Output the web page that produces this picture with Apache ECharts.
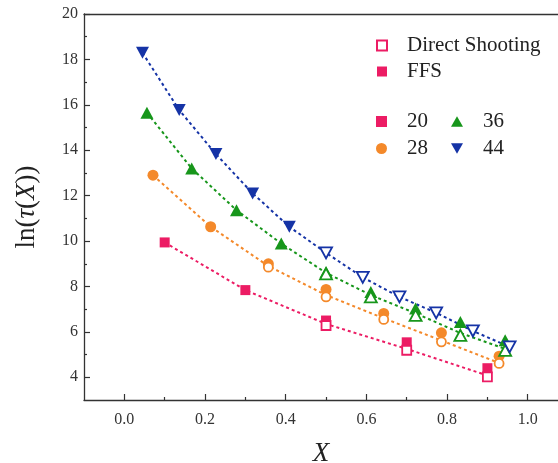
<!DOCTYPE html>
<html><head><meta charset="utf-8">
<script src="https://cdn.jsdelivr.net/npm/echarts@6/dist/echarts.min.js"></script>
<style>html,body{margin:0;padding:0;background:#fff}#c{width:558px;height:463px}</style>
</head><body><div id="c"></div>
<script>
// ---- data ----
const x20 = [0.1, 0.3, 0.5, 0.7, 0.9];
const ffs20 = [9.94, 7.84, 6.5, 5.54, 4.4];
const dsX20 = [0.5, 0.7, 0.9];
const ds20 = [6.28, 5.19, 4.02];
const fit20 = [9.94, 7.84, 6.35, 5.25, 4.08];

const x28 = [0.071, 0.214, 0.357, 0.5, 0.643, 0.786, 0.929];
const ffs28 = [12.9, 10.63, 9.0, 7.87, 6.81, 5.96, 4.93];
const dsX28 = [0.357, 0.5, 0.643, 0.786, 0.929];
const ds28 = [8.85, 7.54, 6.55, 5.56, 4.61];
const fit28 = [12.9, 10.63, 8.9, 7.62, 6.6, 5.62, 4.63];

const x36 = [0.056, 0.167, 0.278, 0.389, 0.5, 0.611, 0.722, 0.833, 0.944];
const ffs36 = [15.65, 13.2, 11.36, 9.89, 8.64, 7.76, 7.03, 6.44, 5.63];
const dsX36 = [0.5, 0.611, 0.722, 0.833, 0.944];
const ds36 = [8.55, 7.54, 6.73, 5.85, 5.19];
const fit36 = [15.65, 13.2, 11.36, 9.89, 8.6, 7.62, 6.82, 5.95, 5.25];

const x44 = [0.045, 0.136, 0.227, 0.318, 0.409, 0.5, 0.591, 0.682, 0.773, 0.864, 0.955];
const ffsX44 = [0.045, 0.136, 0.227, 0.318, 0.409];
const ffs44 = [18.29, 15.77, 13.83, 12.1, 10.63];
const dsX44 = [0.5, 0.591, 0.682, 0.773, 0.864, 0.955];
const ds44 = [9.48, 8.4, 7.54, 6.84, 6.04, 5.34];
const fit44 = [18.29, 15.77, 13.83, 12.1, 10.63, 9.48, 8.4, 7.54, 6.84, 6.04, 5.34];

const xMajor = [0, 0.2, 0.4, 0.6, 0.8, 1.0];
const xMinor = [0.1, 0.3, 0.5, 0.7, 0.9];
const yMajor = [4, 6, 8, 10, 12, 14, 16, 18, 20];
const yMinor = [5, 7, 9, 11, 13, 15, 17, 19];

// ---- styling ----
const PINK = '#ec1c64', ORANGE = '#f4892a', GREEN = '#17961b', BLUE = '#1533a6';
const FONT = 'Liberation Serif';
const DOWN = 'path://M0,0 L12,0 L6,10.4 Z';
const UP = 'path://M6,0 L12,10.4 L0,10.4 Z';
const AX = '#333';

const zip = (xs, ys) => xs.map((x, i) => [x, ys[i]]);

function fitLine(name, xs, ys, color) {
  return { name, type: 'line', data: zip(xs, ys), symbol: 'none', silent: true, z: 1,
    lineStyle: { color, width: 2, type: [3, 3] } };
}
function filled(name, xs, ys, color, symbol, size) {
  return { name, type: 'scatter', data: zip(xs, ys), symbol, symbolSize: size, z: 3,
    itemStyle: { color, opacity: 1 } };
}
function open(name, xs, ys, color, symbol, size) {
  return { name, type: 'scatter', data: zip(xs, ys), symbol, symbolSize: size, z: 4,
    itemStyle: { color: '#fff', borderColor: color, borderWidth: 1.8, opacity: 1 } };
}

const legendText = { fontFamily: FONT, fontSize: 21, color: '#222', padding: [0, 0, 0, 15] };

const option = {
  backgroundColor: '#fff',
  animation: false,
  grid: [
    { left: 84, top: 14, right: 0, bottom: 63, outerBoundsMode: 'none', containLabel: false },
    { left: 84, top: 14, right: 0, bottom: 63, outerBoundsMode: 'none', containLabel: false }
  ],
  xAxis: [
    { gridIndex: 0, type: 'value', min: -0.1, max: 1.075, position: 'bottom',
      name: 'X', nameLocation: 'middle', nameGap: 40,
      nameTextStyle: { fontFamily: FONT, fontSize: 27, fontStyle: 'italic', color: '#222' },
      axisLine: { show: true, onZero: false, lineStyle: { color: AX, width: 1.3 } },
      axisTick: { show: true, inside: true, length: 6, customValues: xMajor, lineStyle: { color: AX, width: 1.2 } },
      axisLabel: { customValues: xMajor, margin: 12, fontFamily: FONT, fontSize: 16, color: '#333',
        formatter: v => v.toFixed(1) },
      splitLine: { show: false } },
    { gridIndex: 0, type: 'value', min: -0.1, max: 1.075, position: 'top',
      axisLine: { show: true, onZero: false, lineStyle: { color: AX, width: 1.3 } },
      axisTick: { show: false }, axisLabel: { show: false }, splitLine: { show: false } },
    { gridIndex: 1, type: 'value', min: -0.1, max: 1.075, position: 'bottom',
      axisLine: { show: false, onZero: false },
      axisTick: { show: true, inside: true, length: 3, customValues: xMinor, lineStyle: { color: AX, width: 1.2 } },
      axisLabel: { show: false }, splitLine: { show: false } }
  ],
  yAxis: [
    { gridIndex: 0, type: 'value', min: 3, max: 20, position: 'left',
      name: 'ln({i|τ}({i|X}))', nameLocation: 'middle', nameGap: 44, nameRotate: 90,
      nameTextStyle: { fontFamily: FONT, fontSize: 27, color: '#222',
        rich: { i: { fontFamily: FONT, fontSize: 27, fontStyle: 'italic', color: '#222' } } },
      axisLine: { show: true, onZero: false, lineStyle: { color: AX, width: 1.3 } },
      axisTick: { show: true, inside: true, length: 6, customValues: yMajor, lineStyle: { color: AX, width: 1.2 } },
      axisLabel: { customValues: yMajor, margin: 6, fontFamily: FONT, fontSize: 16, color: '#333' },
      splitLine: { show: false } },
    { gridIndex: 1, type: 'value', min: 3, max: 20, position: 'left',
      axisLine: { show: false, onZero: false },
      axisTick: { show: true, inside: true, length: 3, customValues: yMinor, lineStyle: { color: AX, width: 1.2 } },
      axisLabel: { show: false }, splitLine: { show: false } }
  ],
  legend: [
    { data: ['Direct Shooting', 'FFS'], orient: 'vertical', left: 371, top: 30,
      itemWidth: 10, itemHeight: 10, itemGap: 5, selectedMode: false, textStyle: legendText },
    { data: ['20', '28'], orient: 'vertical', left: 371, top: 106,
      itemWidth: 11, itemHeight: 11, itemGap: 6, selectedMode: false, textStyle: legendText },
    { data: ['36', '44'], orient: 'vertical', left: 446, top: 106,
      itemWidth: 12, itemHeight: 11, itemGap: 6, selectedMode: false, textStyle: legendText }
  ],
  series: [
    fitLine('fit20', x20, fit20, PINK),
    fitLine('fit28', x28, fit28, ORANGE),
    fitLine('fit36', x36, fit36, GREEN),
    fitLine('fit44', x44, fit44, BLUE),
    filled('20', x20, ffs20, PINK, 'rect', 10),
    filled('28', x28, ffs28, ORANGE, 'circle', 11),
    filled('36', x36, ffs36, GREEN, UP, [13, 12]),
    filled('44', ffsX44, ffs44, BLUE, DOWN, [13, 12]),
    open('ds20', dsX20, ds20, PINK, 'rect', 9),
    open('ds28', dsX28, ds28, ORANGE, 'circle', 9),
    open('ds36', dsX36, ds36, GREEN, UP, [12, 11]),
    open('ds44', dsX44, ds44, BLUE, DOWN, [12, 11]),
    { name: 'Direct Shooting', type: 'scatter', data: [], symbol: 'rect',
      itemStyle: { color: '#fff', borderColor: PINK, borderWidth: 2, opacity: 1 } },
    { name: 'FFS', type: 'scatter', data: [], symbol: 'rect', itemStyle: { color: PINK, opacity: 1 } }
  ]
};
option.series.forEach(s => { s.xAxisIndex = 0; s.yAxisIndex = 0; });

const chart = echarts.init(document.getElementById('c'), null, { renderer: 'canvas' });
chart.setOption(option);
</script></body></html>
